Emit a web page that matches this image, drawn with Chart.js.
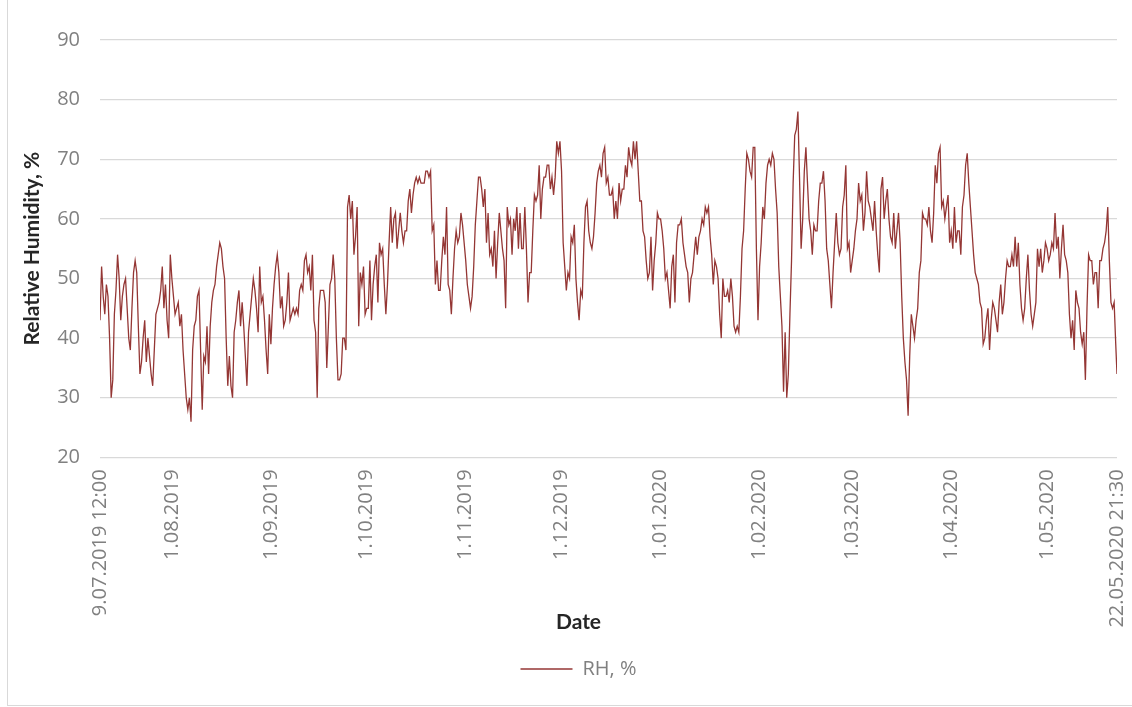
<!DOCTYPE html>
<html>
<head>
<meta charset="utf-8">
<script src="https://cdn.jsdelivr.net/npm/chart.js@4.4.0/dist/chart.umd.min.js"></script>
<style>
  html, body { margin: 0; padding: 0; background: #fff; }
  #wrap { position: relative; width: 1132px; height: 707px; }
  #frame { position: absolute; left: 7px; top: -1px; width: 1126px; height: 707px; border: 1px solid #d9d9d9; box-sizing: border-box; }
  canvas { position: absolute; left: 0; top: 0; }
</style>
</head>
<body>
<div id="wrap">
  <div id="frame"></div>
  <canvas id="rh-chart" width="1132" height="707"></canvas>
</div>
<script>
// readings every 12 h starting 9.07.2019 12:00
const startDate = '2019-07-09T12:00:00Z';
const endDate = '2020-05-22T21:30:00Z';
const stepDays = 0.5;
const tickDates = ['2019-07-09T12:00:00Z', '2019-08-01T00:00:00Z', '2019-09-01T00:00:00Z', '2019-10-01T00:00:00Z',
  '2019-11-01T00:00:00Z', '2019-12-01T00:00:00Z', '2020-01-01T00:00:00Z', '2020-02-01T00:00:00Z',
  '2020-03-01T00:00:00Z', '2020-04-01T00:00:00Z', '2020-05-01T00:00:00Z', '2020-05-22T21:30:00Z'];
const tickLabels = ['9.07.2019 12:00', '1.08.2019', '1.09.2019', '1.10.2019', '1.11.2019', '1.12.2019',
  '1.01.2020', '1.02.2020', '1.03.2020', '1.04.2020', '1.05.2020', '22.05.2020 21:30'];
const rhValues = [
  43, 52, 47, 44, 49, 47, 40, 30, 33, 44,
  48, 54, 50, 43, 47, 49, 50, 45, 40, 38,
  45, 51, 53, 51, 42, 34, 36, 40, 43, 36,
  40, 37, 34, 32, 38, 44, 45, 46, 48, 52,
  45, 49, 43, 40, 54, 50, 47, 44, 45, 46,
  42, 44, 38, 34, 30, 28, 30, 26, 38, 42,
  43, 47, 48, 38, 28, 37, 36, 42, 34, 42,
  46, 48, 49, 52, 54, 56, 55, 52, 50, 40,
  32, 37, 32, 30, 41, 43, 46, 48, 42, 46,
  42, 37, 32, 41, 44, 47, 50, 48, 45, 41,
  52, 46, 47, 43, 38, 34, 44, 39, 45, 49,
  52, 54, 51, 45, 47, 42, 43, 46, 51, 43,
  44, 45, 44, 45, 44, 48, 49, 48, 53, 54,
  51, 52, 48, 54, 43, 41, 30, 45, 48, 48,
  48, 46, 35, 42, 49, 50, 54, 50, 40, 33,
  33, 34, 40, 40, 38, 62, 64, 60, 63, 54,
  57, 62, 42, 51, 49, 52, 44, 45, 45, 53,
  43, 49, 52, 54, 46, 56, 54, 55, 49, 44,
  49, 56, 62, 56, 60, 61, 55, 58, 61, 58,
  56, 58, 58, 63, 65, 61, 64, 66, 67, 66,
  67, 66, 66, 66, 68, 68, 67, 68, 58, 59,
  49, 53, 48, 48, 53, 57, 54, 62, 49, 48,
  44, 50, 55, 58, 56, 57, 61, 59, 56, 53,
  49, 47, 45, 47, 52, 59, 63, 67, 67, 65,
  62, 65, 56, 61, 54, 55, 52, 58, 50, 56,
  61, 58, 55, 53, 45, 62, 59, 60, 54, 60,
  58, 62, 55, 61, 55, 55, 62, 55, 46, 51,
  51, 58, 64, 63, 64, 69, 60, 65, 67, 67,
  69, 69, 65, 67, 64, 67, 73, 71, 73, 68,
  56, 52, 48, 51, 50, 57, 56, 59, 50, 46,
  43, 48, 47, 56, 62, 63, 58, 56, 55, 57,
  61, 66, 68, 69, 67, 71, 72, 66, 67, 64,
  64, 65, 60, 63, 60, 66, 63, 65, 65, 69,
  67, 72, 70, 69, 73, 70, 73, 68, 63, 63,
  58, 57, 53, 50, 51, 57, 48, 53, 56, 61,
  60, 60, 58, 55, 50, 51, 48, 45, 52, 54,
  46, 56, 59, 59, 60, 56, 54, 52, 51, 46,
  50, 51, 54, 57, 54, 57, 58, 60, 59, 62,
  61, 62, 57, 54, 49, 53, 52, 50, 44, 40,
  50, 47, 47, 48, 46, 50, 47, 42, 41, 42,
  41, 47, 55, 58, 65, 71, 70, 68, 67, 72,
  72, 55, 43, 52, 56, 62, 60, 66, 69, 70,
  69, 71, 70, 65, 61, 52, 47, 42, 31, 41,
  30, 34, 44, 53, 66, 74, 75, 78, 67, 55,
  60, 68, 72, 66, 60, 58, 54, 59, 58, 58,
  63, 66, 66, 68, 63, 55, 53, 49, 45, 51,
  56, 61, 56, 54, 55, 62, 64, 69, 55, 56,
  51, 53, 55, 58, 60, 66, 63, 64, 58, 61,
  68, 63, 62, 60, 58, 63, 58, 54, 51, 65,
  67, 60, 63, 65, 60, 57, 56, 61, 55, 58,
  61, 56, 47, 40, 36, 33, 27, 37, 44, 42,
  40, 43, 45, 51, 53, 61, 60, 60, 59, 62,
  58, 56, 61, 69, 66, 71, 72, 62, 63, 60,
  62, 64, 56, 58, 55, 62, 56, 58, 58, 54,
  62, 64, 69, 71, 66, 62, 58, 54, 51, 50,
  49, 46, 45, 39, 40, 43, 45, 38, 43, 46,
  45, 43, 41, 46, 49, 44, 46, 50, 53, 52,
  52, 54, 52, 57, 52, 56, 49, 45, 43, 45,
  50, 54, 48, 44, 42, 44, 46, 55, 52, 55,
  51, 53, 56, 55, 53, 54, 56, 55, 61, 55,
  57, 50, 55, 59, 54, 53, 51, 44, 40, 43,
  38, 48, 46, 45, 41, 39, 41, 33, 45, 54,
  53, 53, 49, 51, 51, 45, 53, 53, 55, 56,
  58, 62, 53, 46, 45, 46, 39, 34
];

const DAY = 86400000;
const t0 = Date.parse(startDate);
const span = (Date.parse(endDate) - t0) / DAY;
const tickDays = tickDates.map(d => (Date.parse(d) - t0) / DAY);
const points = rhValues.map((v, i) => ({ x: Math.min(i * stepDays, span), y: v }));

const tickFont = { family: 'Open Sans', size: 20 };
const titleFont = { family: 'Lato', size: 21, weight: 'bold' };
const grey = '#808080';

const ctx = document.getElementById('rh-chart').getContext('2d');
new Chart(ctx, {
    type: 'line',
    data: {
        datasets: [{
            label: 'RH, %',
            data: points,
            borderColor: '#943634',
            backgroundColor: '#943634',
            borderWidth: 1.3,
            pointRadius: 0,
            tension: 0,
            fill: false
        }]
    },
    options: {
        responsive: false,
        animation: false,
        layout: { padding: { top: 40, right: 15, bottom: 18, left: 40 } },
        plugins: {
            tooltip: { enabled: false },
            // x axis title as a bottom title pulled up beside the long tick labels
            title: {
                display: true,
                position: 'bottom',
                weight: 500,
                text: 'Date',
                color: '#262626',
                font: titleFont,
                padding: { top: -37.6, bottom: 14 }
            },
            legend: {
                position: 'bottom',
                labels: {
                    usePointStyle: true,
                    pointStyle: 'line',
                    pointStyleWidth: 52,
                    color: grey,
                    font: tickFont,
                    padding: 10
                }
            }
        },
        scales: {
            x: {
                type: 'linear',
                min: 0,
                max: span,
                afterBuildTicks: scale => { scale.ticks = tickDays.map(v => ({ value: v })); },
                afterFit: scale => {
                    scale.height = 190;
                    scale.paddingLeft = 0;
                    scale.paddingRight = 0;
                },
                grid: { display: false, drawTicks: false },
                border: { display: false },
                ticks: {
                    autoSkip: false,
                    minRotation: 90,
                    maxRotation: 90,
                    padding: 12,
                    color: grey,
                    font: tickFont,
                    callback: (v, i) => tickLabels[i]
                }
            },
            y: {
                min: 20,
                max: 90,
                afterFit: scale => { scale.width = 60; },
                grid: { color: '#d9d9d9', lineWidth: 1.3, drawTicks: false },
                border: { display: false },
                ticks: { stepSize: 10, padding: 20, color: grey, font: tickFont },
                title: { display: true, text: 'Relative Humidity, %', color: '#262626', font: titleFont, padding: { top: -20.6, bottom: 0 } }
            }
        }
    }
});
</script>
</body>
</html>
